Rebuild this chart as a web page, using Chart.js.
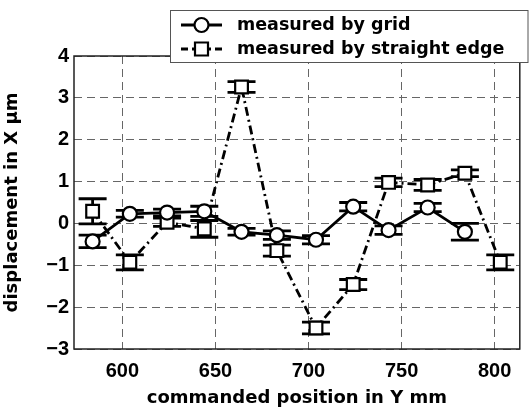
<!DOCTYPE html>
<html>
<head>
<meta charset="utf-8">
<script src="https://cdn.jsdelivr.net/npm/chart.js@4"></script>
<style>
  body { margin: 0; background: #fff; }
</style>
</head>
<body>
<canvas id="chart" width="531" height="410"></canvas>
<script>
// Values
const gridX = [584, 604, 624, 644, 664, 683, 704, 724, 743, 764, 784];
const gridY = [-0.43, 0.23, 0.26, 0.29, -0.2, -0.28, -0.39, 0.4, -0.16, 0.38, -0.2];
const gridErr = [0.15, 0.08, 0.08, 0.12, 0.08, 0.1, 0.1, 0.1, 0.1, 0.1, 0.2];

const edgeX = [584, 604, 624, 644, 664, 683, 704, 724, 743, 764, 784, 803];
const edgeY = [0.29, -0.93, 0.03, -0.13, 3.26, -0.65, -2.5, -1.46, 0.98, 0.92, 1.2, -0.93];
const edgeErr = [0.3, 0.18, 0.1, 0.2, 0.13, 0.13, 0.14, 0.12, 0.1, 0.13, 0.08, 0.18];

const xTicks = [600, 650, 700, 750, 800];
const yTicks = [-3, -2, -1, 0, 1, 2, 3, 4];

const seriesNames = ['measured by grid', 'measured by straight edge'];

const FONT = 'Liberation Sans';
const TEXT_FONT = 'DejaVu Sans';
const dashDot = [9, 4, 2, 4];

function pts(xs, ys) {
    return xs.map((x, i) => ({ x: x, y: ys[i] }));
}

// error bars, drawn before each dataset so the markers sit on top
const errorBars = {
    id: 'errorBars',
    beforeDatasetDraw(chart, args) {
        const errs = [gridErr, edgeErr][args.index];
        const xs = [gridX, edgeX][args.index];
        const ys = [gridY, edgeY][args.index];
        const sx = chart.scales.x, sy = chart.scales.y;
        const ctx = chart.ctx;
        ctx.save();
        ctx.strokeStyle = '#000';
        ctx.lineWidth = 2.8;
        for (let i = 0; i < xs.length; i++) {
            const px = sx.getPixelForValue(xs[i]);
            const top = sy.getPixelForValue(ys[i] + errs[i]);
            const bot = sy.getPixelForValue(ys[i] - errs[i]);
            ctx.beginPath();
            ctx.moveTo(px, top); ctx.lineTo(px, bot);
            ctx.moveTo(px - 14, top); ctx.lineTo(px + 14, top);
            ctx.moveTo(px - 14, bot); ctx.lineTo(px + 14, bot);
            ctx.stroke();
        }
        ctx.restore();
    }
};

// frame round the plot and the boxed legend on top of it
const frameAndLegend = {
    id: 'frameAndLegend',
    afterDraw(chart) {
        const ctx = chart.ctx;
        const a = chart.chartArea;
        ctx.save();
        ctx.strokeStyle = '#222';
        ctx.lineWidth = 1.5;
        ctx.strokeRect(a.left, a.top, a.right - a.left, a.bottom - a.top);

        // legend box
        ctx.fillStyle = '#fff';
        ctx.fillRect(170, 10, 358, 53);
        ctx.strokeStyle = '#555';
        ctx.lineWidth = 1;
        ctx.strokeRect(170.5, 10.5, 357.5, 52);

        const rows = [25, 49];
        ctx.strokeStyle = '#000';
        rows.forEach((y, i) => {
            ctx.lineWidth = 2.8;
            ctx.setLineDash(i === 0 ? [] : [7, 4, 2, 4]);
            ctx.beginPath();
            ctx.moveTo(181, y); ctx.lineTo(222, y);
            ctx.stroke();
            ctx.setLineDash([]);
            ctx.fillStyle = '#fff';
            ctx.lineWidth = 2.2;
            ctx.beginPath();
            if (i === 0) {
                ctx.arc(201.5, y, 7, 0, Math.PI * 2);
            } else {
                ctx.rect(195, y - 6.5, 13, 13);
            }
            ctx.fill();
            ctx.stroke();
            ctx.fillStyle = '#000';
            ctx.font = 'bold 17.5px "' + TEXT_FONT + '"';
            ctx.textBaseline = 'middle';
            ctx.fillText(seriesNames[i], 237, y);
        });
        ctx.restore();
    }
};

new Chart(document.getElementById('chart'), {
    type: 'line',
    data: {
        datasets: [{
            label: seriesNames[0],
            data: pts(gridX, gridY),
            borderColor: '#000',
            borderWidth: 2.8,
            pointStyle: 'circle',
            pointRadius: 7,
            pointBorderWidth: 2.2,
            pointBackgroundColor: '#fff',
            pointBorderColor: '#000',
            tension: 0
        }, {
            label: seriesNames[1],
            data: pts(edgeX, edgeY),
            borderColor: '#000',
            borderWidth: 2.8,
            borderDash: dashDot,
            pointStyle: 'rect',
            pointRadius: 9,
            pointBorderWidth: 2.2,
            pointBackgroundColor: '#fff',
            pointBorderColor: '#000',
            tension: 0
        }]
    },
    options: {
        responsive: false,
        animation: false,
        devicePixelRatio: 1,
        layout: { padding: { top: 56, right: 2, left: 0, bottom: 0 } },
        plugins: {
            legend: { display: false },
            tooltip: { enabled: false }
        },
        scales: {
            x: {
                type: 'linear',
                min: 574,
                max: 813.5,
                afterBuildTicks: axis => { axis.ticks = xTicks.map(v => ({ value: v })); },
                afterFit: axis => { axis.height = 61; },
                grid: { color: '#666', lineWidth: 1, drawTicks: false },
                border: { display: false, dash: [8, 5] },
                ticks: {
                    color: '#000',
                    padding: 10,
                    maxRotation: 0,
                    font: { family: FONT, size: 20, weight: 'bold' }
                },
                title: {
                    display: true,
                    text: 'commanded position in Y mm',
                    color: '#000',
                    padding: { top: 0, bottom: 1 },
                    font: { family: TEXT_FONT, size: 18, weight: 'bold' }
                }
            },
            y: {
                min: -3,
                max: 4,
                afterBuildTicks: axis => { axis.ticks = yTicks.map(v => ({ value: v })); },
                afterFit: axis => { axis.width = 74; },
                grid: { color: '#666', lineWidth: 1, drawTicks: false },
                border: { display: false, dash: [8, 5] },
                ticks: {
                    color: '#000',
                    padding: 5,
                    font: { family: FONT, size: 20, weight: 'bold' },
                    callback: v => String(v).replace('-', '\u2212')
                },
                title: {
                    display: true,
                    text: 'displacement in X \u03bcm',
                    color: '#000',
                    padding: { top: 2, bottom: 0 },
                    font: { family: TEXT_FONT, size: 18, weight: 'bold' }
                }
            }
        }
    },
    plugins: [errorBars, frameAndLegend]
});
</script>
</body>
</html>
